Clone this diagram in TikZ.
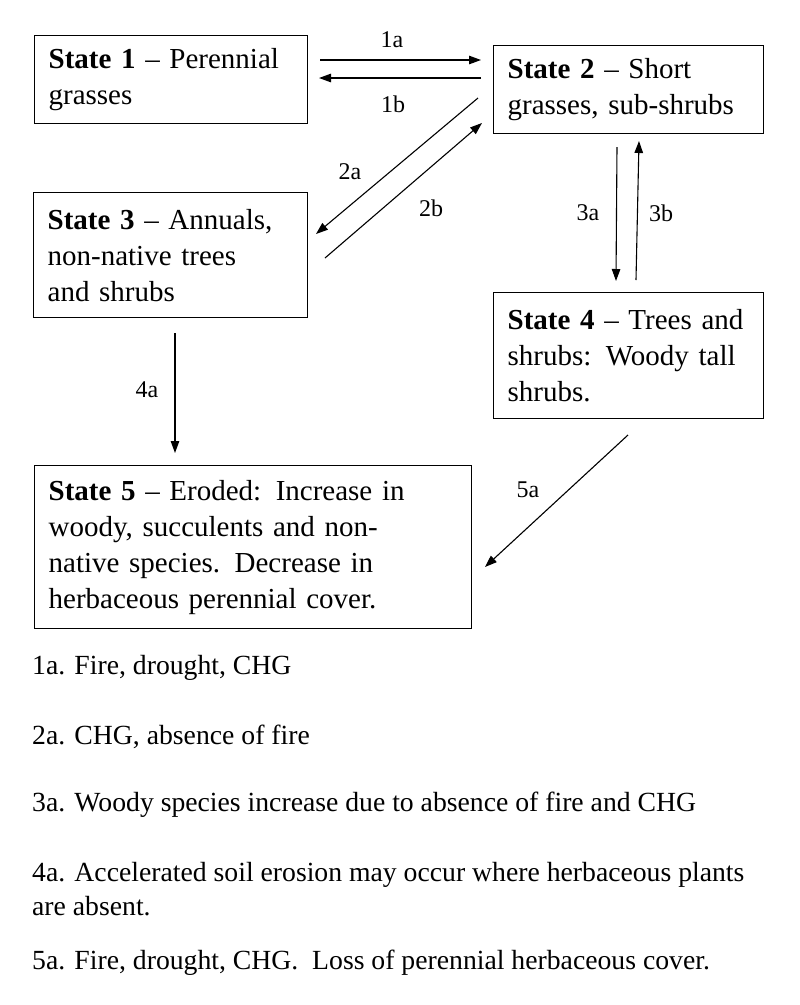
\documentclass[tikz,border=0pt]{standalone}
\usepackage{fontspec}
\setmainfont{Liberation Serif}
\usetikzlibrary{arrows.meta}

\tikzset{
  statebox/.style={draw, line width=1.3pt, rectangle, anchor=north west, inner xsep=14pt, inner ysep=0pt, align=left, font=\fontsize{29}{36}\selectfont},
  trans/.style={line width=1.1pt, -{Triangle[length=12pt,width=8.5pt]}},
  lbl/.style={inner sep=0pt, font=\fontsize{24}{30}\selectfont},
  keyline/.style={anchor=west, inner sep=0pt, align=left, font=\fontsize{27.7}{34}\selectfont}
}

\begin{document}
\begin{tikzpicture}[x=1pt, y=-1pt]
     \useasboundingbox (0,0) rectangle (800,1005);
     % states
     \node[statebox, text width=245pt, minimum height=88pt] (s1) at (34,35) {\textbf{State 1} -- Perennial\\grasses};
     \node[statebox, text width=242pt, minimum height=88pt] (s2) at (493,45) {\textbf{State 2} -- Short\\grasses, sub-shrubs};
     \node[statebox, text width=246pt, minimum height=125pt] (s3) at (33,192) {\textbf{State 3} -- Annuals,\\non-native trees\\and shrubs};
     \node[statebox, text width=242pt, minimum height=126pt] (s4) at (493,292) {\textbf{State 4} -- Trees and\\shrubs: Woody tall\\shrubs.};
     \node[statebox, text width=409pt, minimum height=163pt] (s5) at (34,465) {\textbf{State 5} -- Eroded: Increase in\\woody, succulents and non-\\native species. Decrease in\\herbaceous perennial cover.};
     % arrow ends
     \coordinate (t1a) at (320,60);  \coordinate (h1a) at (481,60);
     \coordinate (t1b) at (481,78);  \coordinate (h1b) at (319,78);
     \coordinate (t2a) at (478,98);  \coordinate (h2a) at (316,234);
     \coordinate (t2b) at (325,258); \coordinate (h2b) at (482,123);
     \coordinate (t3a) at (617,147); \coordinate (h3a) at (616,281);
     \coordinate (t3b) at (636,280); \coordinate (h3b) at (639,141);
     \coordinate (t4a) at (175,333); \coordinate (h4a) at (175,453);
     \coordinate (t5a) at (628,435); \coordinate (h5a) at (485,567);
     \draw[trans] (t1a) -- (h1a);
     \draw[trans] (t1b) -- (h1b);
     \draw[trans] (t2a) -- (h2a);
     \draw[trans] (t2b) -- (h2b);
     \draw[trans] (t3a) -- (h3a);
     \draw[trans] (t3b) -- (h3b);
     \draw[trans] (t4a) -- (h4a);
     \draw[trans] (t5a) -- (h5a);
     \node[lbl] (l1a) at (392,40) {1a};
     \node[lbl] (l1b) at (393,104) {1b};
     \node[lbl] (l2a) at (350,172) {2a};
     \node[lbl] (l2b) at (431,208) {2b};
     \node[lbl] (l3a) at (588,213) {3a};
     \node[lbl] (l3b) at (661,213) {3b};
     \node[lbl] (l4a) at (147,390) {4a};
     \node[lbl] (l5a) at (528,490) {5a};
     % key
     \node[keyline] (k1) at (32,668) {1a. Fire, drought, CHG};
     \node[keyline] (k2) at (32,737) {2a. CHG, absence of fire};
     \node[keyline] (k3) at (32,805) {3a. Woody species increase due to absence of fire and CHG};
     \node[keyline] (k4) at (32,889) {4a. Accelerated soil erosion may occur where herbaceous plants\\are absent.};
     \node[keyline] (k5) at (32,963) {5a. Fire, drought, CHG.\ \ Loss of perennial herbaceous cover.};
\end{tikzpicture}
\end{document}
